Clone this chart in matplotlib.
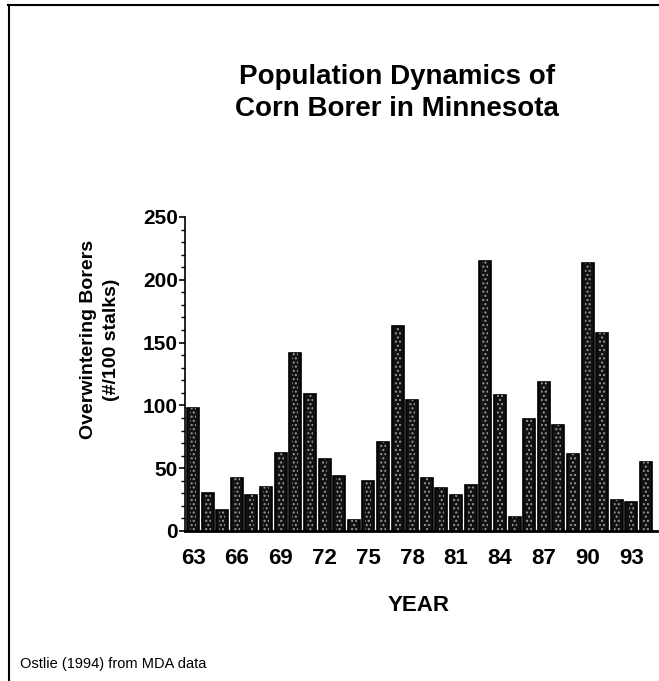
import matplotlib
matplotlib.use("Agg")
import matplotlib.pyplot as plt
from matplotlib.lines import Line2D

plt.rcParams['font.family'] = ['Liberation Sans', 'DejaVu Sans']

# overwintering borers per 100 stalks
years = list(range(63, 95))
borers = [98, 30, 17, 42, 29, 35, 62, 142, 109, 57, 44, 9, 40, 71, 163, 104,
          42, 34, 29, 37, 215, 108, 11, 89, 119, 84, 61, 213, 158, 25, 23, 55]
tick_years = [63, 66, 69, 72, 75, 78, 81, 84, 87, 90, 93]
y_ticks = [0, 50, 100, 150, 200, 250]

fig = plt.figure(figsize=(6.59, 6.81), dpi=100)
ax = fig.add_axes([185 / 659, 1 - 531 / 681, (657 - 185) / 659, (531 - 217) / 681])

# dark bars with a light stipple inside
ax.bar(years, borers, width=0.82, color='#111111', edgecolor='#000000', linewidth=1.2, zorder=2)
ax.bar(years, borers, width=0.4, color='none', edgecolor='#9a9a9a', hatch='....',
       linewidth=0, zorder=3)

ax.set_xlim(62.45, 94.75)
ax.set_ylim(0, 250)
ax.set_yticks(y_ticks)
ax.set_yticks(range(0, 251, 10), minor=True)
ax.set_yticklabels([str(v) for v in y_ticks], fontsize=15, fontweight='bold')
ax.set_xticks(tick_years)
ax.set_xticklabels([str(y) for y in tick_years], fontsize=16, fontweight='bold')
ax.tick_params(axis='x', length=0, pad=12)
ax.tick_params(axis='y', which='major', length=4, width=1.2, pad=1)
ax.tick_params(axis='y', which='minor', length=3, width=1)
for s in ['top', 'right']:
    ax.spines[s].set_visible(False)
ax.spines['left'].set_linewidth(1.2)
ax.spines['bottom'].set_linewidth(2)

ax.set_xlabel('YEAR', fontsize=16, fontweight='bold', va='top')
ax.xaxis.set_label_coords(0.494, -0.204)
ax.set_ylabel('Overwintering Borers\n(#/100 stalks)', fontsize=14, fontweight='bold',
              linespacing=1.45, va='center')
ax.yaxis.set_label_coords(-0.18, 0.61)

fig.text(397 / 659, 1 - 93 / 681, 'Population Dynamics of\nCorn Borer in Minnesota',
         ha='center', va='center', fontsize=20, fontweight='bold', linespacing=1.3)
fig.text(20 / 659, 1 - 664 / 681, 'Ostlie (1994) from MDA data', ha='left', va='center',
         fontsize=10.5)

# page frame: top and left edges of the scanned slide
fig.add_artist(Line2D([8 / 659, 1], [1 - 5 / 681, 1 - 5 / 681], color='black', linewidth=1.5))
fig.add_artist(Line2D([9 / 659, 9 / 659], [0, 1 - 5 / 681], color='black', linewidth=1.5))

fig.savefig('out.png', dpi=100)
